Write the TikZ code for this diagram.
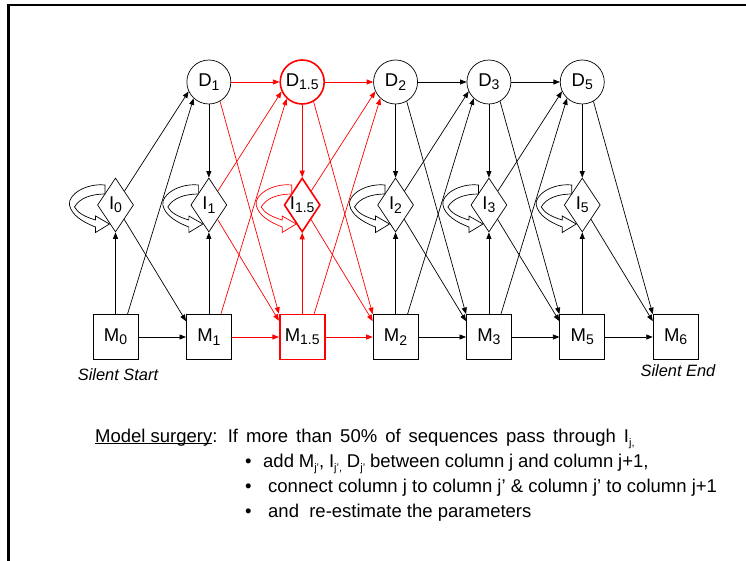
\documentclass[tikz,border=0pt]{standalone}
\usepackage{fontspec}
\setmainfont{Liberation Sans}
\usetikzlibrary{arrows.meta,shapes.geometric,calc}
\newcommand\nsub[1]{\raisebox{-0.18em}{\fontsize{14}{14}\selectfont #1}}
\newcommand\tsub[1]{\raisebox{-0.22em}{\fontsize{11}{11}\selectfont #1}}
\newcommand\ulx[1]{\setbox0\hbox{#1}\rlap{\rule[-2.2pt]{\wd0}{0.9pt}}\box0}
\begin{document}
\begin{tikzpicture}[x=1pt,y=-1pt,
  lab/.style={font=\fontsize{18.5}{20}\selectfont},
  bt/.style={font=\fontsize{18.5}{22}\selectfont,inner sep=0pt},
  st/.style={font=\fontsize{16.4}{18}\selectfont\itshape,inner sep=0pt},
  dnode/.style={circle,draw,minimum size=44pt,inner sep=0pt,line width=0.7pt,lab},
  inode/.style={diamond,draw,minimum width=36pt,minimum height=54pt,inner sep=0pt,line width=0.7pt},
  mnode/.style={rectangle,draw,minimum width=45pt,minimum height=45pt,inner sep=0pt,line width=0.7pt,lab},
  hot/.style={draw=red,line width=1.6pt},
  edge/.style={-{Triangle[length=6.5pt,width=5pt]},line width=0.7pt},
  selfloop/.pic={
    \draw[line width=0.7pt,fill=white,draw=#1]
      (-10.5,-20) .. controls (-30,-22) and (-48,-10) .. (-46,0)
      .. controls (-44,10) and (-33,17) .. (-20,22)
      -- (-20,27.5) -- (-6,19) -- (-20,11) -- (-20,15)
      .. controls (-30,12) and (-38,8) .. (-41,2)
      .. controls (-36,-7) and (-24,-11) .. (-10.5,-11) -- cycle;
  },
  selfloop/.default=black
]
\useasboundingbox (0,0) rectangle (746,561);
% frame
\draw[line width=2.6pt] (8.5,561) -- (8.5,5) -- (746,5);

% D row
\node[dnode] (D1) at (208.85,82) {D\nsub{1}};
\node[dnode,hot] (D15) at (302.2,82) {D\nsub{1.5}};
\node[dnode] (D2) at (395.55,82) {D\nsub{2}};
\node[dnode] (D3) at (488.9,82) {D\nsub{3}};
\node[dnode] (D5) at (582.25,82) {D\nsub{5}};
% I row
\node[inode,label={[lab]center:I\nsub{0}}] (I0) at (115.5,205) {};
\node[inode,label={[lab]center:I\nsub{1}}] (I1) at (208.85,205) {};
\node[inode,hot,label={[lab]center:I\nsub{1.5}}] (I15) at (302.2,205) {};
\node[inode,label={[lab]center:I\nsub{2}}] (I2) at (395.55,205) {};
\node[inode,label={[lab]center:I\nsub{3}}] (I3) at (488.9,205) {};
\node[inode,label={[lab]center:I\nsub{5}}] (I5) at (582.25,205) {};
% M row
\node[mnode] (M0) at (115.5,337) {M\nsub{0}};
\node[mnode] (M1) at (208.85,337) {M\nsub{1}};
\node[mnode,hot] (M15) at (302.2,337) {M\nsub{1.5}};
\node[mnode] (M2) at (395.55,337) {M\nsub{2}};
\node[mnode] (M3) at (488.9,337) {M\nsub{3}};
\node[mnode] (M5) at (582.25,337) {M\nsub{5}};
\node[mnode] (M6) at (675.6,337) {M\nsub{6}};

% column 0 -> 1
\draw[edge] (M0) -- (I0);
\draw[edge] ($(M0.north)+(12,0)$) -- (D1.227);
\draw[edge] (M0) -- (M1);
\draw[edge] (I0) -- (D1.205);
\draw[edge] (I0) -- ($(M1.north west)+(0,7)$);

\foreach \a/\b/\c in {1/15/red,15/2/red,2/3/black,3/5/black}{
  \draw[edge,\c] (D\a) -- (D\b);
  \draw[edge,\c] (D\a.300) -- (M\b.north west);
  \draw[edge,\c] (I\a) -- (D\b.205);
  \draw[edge,\c] (I\a) -- ($(M\b.north west)+(0,7)$);
  \draw[edge,\c] ($(M\a.north)+(12,0)$) -- (D\b.227);
  \draw[edge,\c] (M\a) -- (M\b);
}
\foreach \a/\c in {1/black,15/red,2/black,3/black,5/black}{
  \draw[edge,\c] (D\a) -- (I\a);
  \draw[edge,\c] (M\a) -- (I\a);
}
\draw[edge] (D5.300) -- (M6.north west);
\draw[edge] (I5) -- ($(M6.north west)+(0,7)$);
\draw[edge] (M5) -- (M6);

% self loops
\foreach \n/\c in {0/black,1/black,15/red,2/black,3/black,5/black}{
  \pic at (I\n) {selfloop=\c};
}

% captions
\node[st] (ss) at (118,375) {Silent Start};
\node[st] (se) at (678,371) {Silent End};

% text
\node[bt,anchor=base west] (t1) at (95,442) {\ulx{Model surgery}:\ \ {\spaceskip=8pt If more than 50\% of sequences pass through I\tsub{j,}}};
\node[bt,anchor=base west] (t2) at (245,467) {\makebox[18pt][l]{\textbullet}{\spaceskip=4.8pt add M\tsub{j’}, I\tsub{j’,} D\tsub{j’} between column j and column j+1,}};
\node[bt,anchor=base west] (t3) at (245,492) {\makebox[23pt][l]{\textbullet}connect column j to column j’ \& column j’ to column j+1};
\node[bt,anchor=base west] (t4) at (245,517) {\makebox[23pt][l]{\textbullet}and\ \ re-estimate the parameters};
\end{tikzpicture}
\end{document}
